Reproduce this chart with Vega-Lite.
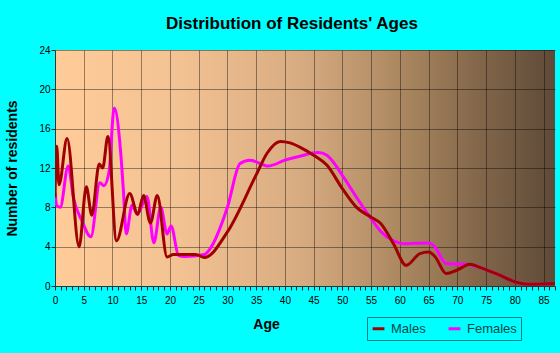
{
  "$schema": "https://vega.github.io/schema/vega-lite/v6.json",
  "width": 500,
  "height": 236,
  "autosize": "none",
  "padding": {"left": 55, "top": 50, "right": 5, "bottom": 67},
  "background": "#00FFFF",
  "title": {
    "text": "Distribution of Residents' Ages",
    "font": "Liberation Sans",
    "fontSize": 17,
    "fontWeight": "bold",
    "color": "#000000",
    "anchor": "middle",
    "dx": -13,
    "dy": 23,
    "baseline": "alphabetic",
    "offset": 22
  },
  "config": {
    "view": {
      "stroke": null,
      "fill": {
        "gradient": "linear",
        "x1": 0, "y1": 0, "x2": 1, "y2": 0,
        "stops": [
          {"offset": 0, "color": "#FFCC99"},
          {"offset": 0.25, "color": "#F3C293"},
          {"offset": 0.5, "color": "#D6AA80"},
          {"offset": 0.7, "color": "#A9865F"},
          {"offset": 0.85, "color": "#82664A"},
          {"offset": 1, "color": "#5E4A38"}
        ]
      }
    },
    "font": "Liberation Sans"
  },
  "data": {
    "values": [
      {"sex": "Females", "age": 0, "n": 9.5},
      {"sex": "Females", "age": 0.3, "n": 8.2},
      {"sex": "Females", "age": 0.9, "n": 8.0},
      {"sex": "Females", "age": 2.3, "n": 12.2},
      {"sex": "Females", "age": 3.2, "n": 9.0},
      {"sex": "Females", "age": 4.7, "n": 6.6},
      {"sex": "Females", "age": 6.25, "n": 5.0},
      {"sex": "Females", "age": 7.8, "n": 10.5},
      {"sex": "Females", "age": 8.5, "n": 10.2},
      {"sex": "Females", "age": 9.4, "n": 11.6},
      {"sex": "Females", "age": 10.3, "n": 18.1},
      {"sex": "Females", "age": 11.4, "n": 13.8},
      {"sex": "Females", "age": 11.9, "n": 9.7},
      {"sex": "Females", "age": 12.4, "n": 5.3},
      {"sex": "Females", "age": 13.4, "n": 8.2},
      {"sex": "Females", "age": 14.3, "n": 7.3},
      {"sex": "Females", "age": 16.0, "n": 9.1},
      {"sex": "Females", "age": 17.2, "n": 4.4},
      {"sex": "Females", "age": 18.4, "n": 8.0},
      {"sex": "Females", "age": 19.5, "n": 5.3},
      {"sex": "Females", "age": 20.2, "n": 6.1},
      {"sex": "Females", "age": 21.5, "n": 3.1},
      {"sex": "Females", "age": 22.5, "n": 3.0},
      {"sex": "Females", "age": 26.0, "n": 3.2},
      {"sex": "Females", "age": 27.0, "n": 3.8},
      {"sex": "Females", "age": 30.0, "n": 8.0},
      {"sex": "Females", "age": 32.2, "n": 12.45},
      {"sex": "Females", "age": 33.9, "n": 12.8},
      {"sex": "Females", "age": 37.1, "n": 12.2},
      {"sex": "Females", "age": 40.0, "n": 12.8},
      {"sex": "Females", "age": 42.6, "n": 13.2},
      {"sex": "Females", "age": 45.8, "n": 13.57},
      {"sex": "Females", "age": 47.3, "n": 13.3},
      {"sex": "Females", "age": 50.0, "n": 11.26},
      {"sex": "Females", "age": 52.6, "n": 8.9},
      {"sex": "Females", "age": 55.0, "n": 6.86},
      {"sex": "Females", "age": 56.6, "n": 5.6},
      {"sex": "Females", "age": 58.9, "n": 4.6},
      {"sex": "Females", "age": 60.7, "n": 4.3},
      {"sex": "Females", "age": 65.0, "n": 4.37},
      {"sex": "Females", "age": 65.9, "n": 4.1},
      {"sex": "Females", "age": 68.1, "n": 2.28},
      {"sex": "Females", "age": 71.6, "n": 2.2},
      {"sex": "Females", "age": 73.9, "n": 1.9},
      {"sex": "Females", "age": 77.4, "n": 1.1},
      {"sex": "Females", "age": 79.7, "n": 0.5},
      {"sex": "Females", "age": 82.6, "n": 0.17},
      {"sex": "Females", "age": 87.0, "n": 0.25},
      {"sex": "Males", "age": 0, "n": 9.0},
      {"sex": "Males", "age": 0.3, "n": 14.2},
      {"sex": "Males", "age": 0.7, "n": 10.3},
      {"sex": "Males", "age": 2.1, "n": 15.0},
      {"sex": "Males", "age": 4.2, "n": 4.0},
      {"sex": "Males", "age": 5.45, "n": 10.1},
      {"sex": "Males", "age": 6.4, "n": 7.2},
      {"sex": "Males", "age": 7.7, "n": 12.4},
      {"sex": "Males", "age": 8.3, "n": 12.0},
      {"sex": "Males", "age": 9.2, "n": 15.2},
      {"sex": "Males", "age": 10.7, "n": 4.6},
      {"sex": "Males", "age": 13.0, "n": 9.4},
      {"sex": "Males", "age": 14.4, "n": 7.3},
      {"sex": "Males", "age": 15.4, "n": 9.2},
      {"sex": "Males", "age": 16.6, "n": 6.4},
      {"sex": "Males", "age": 17.8, "n": 9.2},
      {"sex": "Males", "age": 19.5, "n": 2.95},
      {"sex": "Males", "age": 20.6, "n": 3.2},
      {"sex": "Males", "age": 24.5, "n": 3.2},
      {"sex": "Males", "age": 26.0, "n": 2.9},
      {"sex": "Males", "age": 30.0, "n": 5.5},
      {"sex": "Males", "age": 35.0, "n": 11.3},
      {"sex": "Males", "age": 36.9, "n": 13.5},
      {"sex": "Males", "age": 39.2, "n": 14.7},
      {"sex": "Males", "age": 40.9, "n": 14.55},
      {"sex": "Males", "age": 43.0, "n": 14.0},
      {"sex": "Males", "age": 45.0, "n": 13.3},
      {"sex": "Males", "age": 47.3, "n": 12.3},
      {"sex": "Males", "age": 50.0, "n": 9.9},
      {"sex": "Males", "age": 52.3, "n": 8.1},
      {"sex": "Males", "age": 55.0, "n": 7.0},
      {"sex": "Males", "age": 56.6, "n": 6.4},
      {"sex": "Males", "age": 58.9, "n": 4.3},
      {"sex": "Males", "age": 61.1, "n": 2.1},
      {"sex": "Males", "age": 63.5, "n": 3.3},
      {"sex": "Males", "age": 65.0, "n": 3.45},
      {"sex": "Males", "age": 66.1, "n": 3.0},
      {"sex": "Males", "age": 68.1, "n": 1.26},
      {"sex": "Males", "age": 69.9, "n": 1.6},
      {"sex": "Males", "age": 72.2, "n": 2.2},
      {"sex": "Males", "age": 73.9, "n": 1.9},
      {"sex": "Males", "age": 77.4, "n": 1.1},
      {"sex": "Males", "age": 79.7, "n": 0.5},
      {"sex": "Males", "age": 82.6, "n": 0.17},
      {"sex": "Males", "age": 87.0, "n": 0.25}
    ]
  },
  "mark": {"type": "line", "interpolate": "monotone", "strokeWidth": 3, "clip": true},
  "encoding": {
    "x": {
      "field": "age",
      "type": "quantitative",
      "scale": {"domain": [0, 87], "nice": false, "zero": false},
      "axis": {
        "title": "Age",
        "titleFont": "Liberation Sans",
        "titleFontSize": 14,
        "titleFontWeight": "bold",
        "titleColor": "#000000",
        "titleX": 211,
        "titleY": 38,
        "titleBaseline": "middle",
        "titleAlign": "center",
        "values": [0,1,2,3,4,5,6,7,8,9,10,11,12,13,14,15,16,17,18,19,20,21,22,23,24,25,26,27,28,29,30,31,32,33,34,35,36,37,38,39,40,41,42,43,44,45,46,47,48,49,50,51,52,53,54,55,56,57,58,59,60,61,62,63,64,65,66,67,68,69,70,71,72,73,74,75,76,77,78,79,80,81,82,83,84,85,86,87],
        "labelExpr": "datum.value % 5 === 0 ? datum.label : ''",
        "labelFontSize": 10,
        "labelColor": "#000000",
        "labelPadding": 5,
        "labelFlush": false,
        "labelOverlap": false,
        "tickSize": 4,
        "tickColor": "#222222",
        "domainColor": "#333333",
        "grid": true,
        "gridColor": "#000000",
        "gridOpacity": {"condition": {"test": "datum.value % 5 === 0", "value": 0.4}, "value": 0}
      }
    },
    "y": {
      "field": "n",
      "type": "quantitative",
      "scale": {"domain": [0, 24], "nice": false},
      "axis": {
        "title": "Number of residents",
        "titleFont": "Liberation Sans",
        "titleFontSize": 14,
        "titleFontWeight": "bold",
        "titleColor": "#000000",
        "titleAngle": -90,
        "titleX": -43,
        "titleY": 118,
        "titleAlign": "center",
        "titleBaseline": "middle",
        "values": [0, 4, 8, 12, 16, 20, 24],
        "labelFontSize": 10,
        "labelColor": "#000000",
        "labelPadding": 1,
        "tickSize": 4,
        "tickColor": "#222222",
        "domainColor": "#333333",
        "grid": true,
        "gridColor": "#000000",
        "gridOpacity": 0.4
      }
    },
    "color": {
      "field": "sex",
      "type": "nominal",
      "scale": {"domain": ["Males", "Females"], "range": ["#A00000", "#FF00FF"]},
      "legend": {
        "title": null,
        "orient": "none",
        "legendX": 312,
        "legendY": 267,
        "direction": "horizontal",
        "strokeColor": "#008080",
        "padding": 4,
        "symbolType": "stroke",
        "symbolSize": 140,
        "symbolStrokeWidth": 3,
        "labelFontSize": 13,
        "labelColor": "#004848",
        "labelOffset": 5,
        "columnPadding": 16
      }
    }
  }
}
